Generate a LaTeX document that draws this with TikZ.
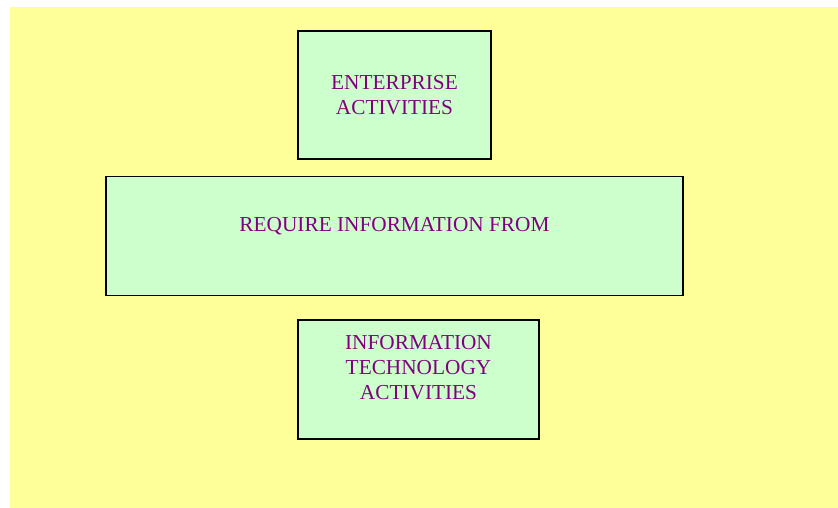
\documentclass[tikz,border=0pt]{standalone}
\usepackage{fontspec}
\setmainfont{Liberation Serif}
\usetikzlibrary{positioning}

\definecolor{slideyellow}{HTML}{FFFF99}
\definecolor{boxgreen}{HTML}{CCFFCC}
\definecolor{textpurple}{HTML}{800080}

\begin{document}
\begin{tikzpicture}[
		x=1pt,y=-1pt,
		box/.style={
			rectangle,
			draw=black,
			line width=1.5pt,
			fill=boxgreen,
			inner sep=0pt,
		},
		caption/.style={
			align=center,
			text=textpurple,
			inner sep=0pt,
			font=\fontsize{21.3}{25}\selectfont,
		},
		]
		% Draw the page and the yellow background
		\useasboundingbox[fill=white] (0,0) rectangle (838,508);
		\fill[slideyellow] (10,7) rectangle (838,508);
		% Draw the enterprise box
		\node [box,minimum width=193pt,minimum height=128pt] (enterprise) at (394.5,95) {};
		\node [caption] (enterprisetxt) at (enterprise.center) {ENTERPRISE\\ACTIVITIES};
		% Draw the middle box and its label
		\node [box,minimum width=577pt,minimum height=119pt] (require) at (394.5,236) {};
		\node [caption,below=41pt of require.north] (requiretxt) {REQUIRE INFORMATION FROM};
		% Draw the technology box and its label
		\node [box,minimum width=241pt,minimum height=119pt] (tech) at (418.5,379.5) {};
		\node [caption,below=16pt of tech.north] (techtxt) {INFORMATION\\TECHNOLOGY\\ACTIVITIES};
	\end{tikzpicture}
\end{document}
